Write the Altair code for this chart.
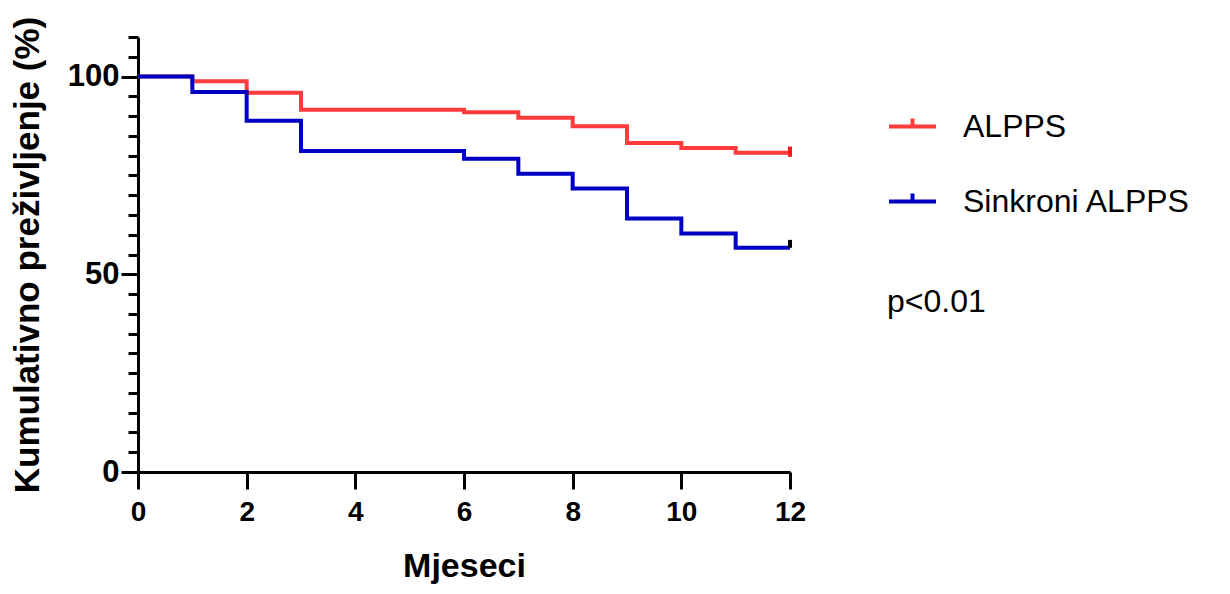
import altair as alt
import pandas as pd

months = [0, 1, 2, 3, 6, 7, 8, 9, 10, 11, 12]
alpps = [100, 98.8, 95.9, 91.6, 91.0, 89.6, 87.4, 83.2, 81.9, 80.7, 80.7]
sinkroni = [100, 96.1, 88.8, 81.2, 79.2, 75.4, 71.7, 64.1, 60.3, 56.7, 56.7]
groups = ["ALPPS", "Sinkroni ALPPS"]
colors = ["#ff3b3b", "#0000c4"]
censor_colors = ["#ff1a1a", "#000000"]
x_tick_values = [0, 2, 4, 6, 8, 10, 12]
y_tick_values = [0, 5, 10, 15, 20, 25, 30, 35, 40, 45, 50, 55, 60, 65, 70, 75, 80, 85, 90, 95, 100, 105, 110]

rows = []
for m, a in zip(months, alpps):
    rows.append({"t": m, "s": a, "g": groups[0], "o": 0})
for m, b in zip(months, sinkroni):
    rows.append({"t": m, "s": b, "g": groups[1], "o": 1})
df = pd.DataFrame(rows)

cens = pd.DataFrame({
    "t": [months[-1], months[-1]],
    "s": [alpps[-1] - 1.0, sinkroni[-1]],
    "s2": [alpps[-1] + 1.6, sinkroni[-1] + 2.0],
    "g": groups,
    "c": censor_colors,
})

FONT = "Liberation Sans"

xscale = alt.Scale(domain=[0, 12], nice=False, zero=False)
yscale = alt.Scale(domain=[0, 110], nice=False)

x_axis = alt.Axis(
    values=x_tick_values, format="d", title="Mjeseci", grid=False,
    domainColor="black", domainWidth=3, tickColor="black", tickWidth=3, tickSize=17,
    labelFont=FONT, labelFontSize=28, labelFontWeight="bold", labelColor="black",
    labelPadding=9, labelFlush=False, labelOverlap=False,
    titleFont=FONT, titleFontSize=34, titleFontWeight="bold", titleColor="black", titlePadding=23,
)
y_axis = alt.Axis(
    values=y_tick_values, format="d", title="Kumulativno preživljenje (%)", grid=False,
    labelExpr="datum.value % 50 === 0 ? datum.label : ''",
    domainColor="black", domainWidth=3, tickWidth=3, tickColor="black",
    tickSize={"condition": {"test": "datum.value % 50 === 0", "value": 17}, "value": 10},
    labelFont=FONT, labelFontSize=31, labelFontWeight="bold", labelColor="black",
    labelPadding=2, labelFlush=False, labelOverlap=False,
    titleFont=FONT, titleFontSize=35, titleFontWeight="bold", titleColor="black", titlePadding=22,
)

lines = alt.Chart(df).mark_line(interpolate="step-after", strokeWidth=4).encode(
    x=alt.X("t:Q", scale=xscale, axis=x_axis),
    y=alt.Y("s:Q", scale=yscale, axis=y_axis),
    color=alt.Color(
        "g:N",
        scale=alt.Scale(domain=groups, range=colors),
        legend=alt.Legend(
            title=None, orient="none", legendX=749, legendY=64, padding=0,
            symbolType="M-1,0H1M0,0V-0.34", symbolSize=2209, symbolStrokeWidth=4,
            labelFont=FONT, labelFontSize=32, labelColor="black", labelOffset=25,
            labelLimit=0, rowPadding=33,
        ),
    ),
    order="o:Q",
)

ticks = alt.Chart(cens).mark_rule(strokeWidth=4).encode(
    x=alt.X("t:Q", scale=xscale, axis=x_axis),
    y=alt.Y("s:Q", scale=yscale, axis=y_axis),
    y2="s2:Q",
    color=alt.Color("c:N", scale=None, legend=None),
)

ptext = alt.Chart(pd.DataFrame({"txt": ["p<0.01"]})).mark_text(
    align="left", baseline="alphabetic", font=FONT, fontSize=32, color="black"
).encode(x=alt.value(749), y=alt.value(275), text="txt:N")

chart = alt.layer(lines, ticks, ptext).properties(
    width=652, height=435,
    autosize=alt.AutoSizeParams(type="none"),
    padding={"left": 130, "top": 29, "right": 432, "bottom": 114},
).configure_view(stroke=None)

chart.save("out.html", embed_options={"renderer": "svg", "actions": False})
